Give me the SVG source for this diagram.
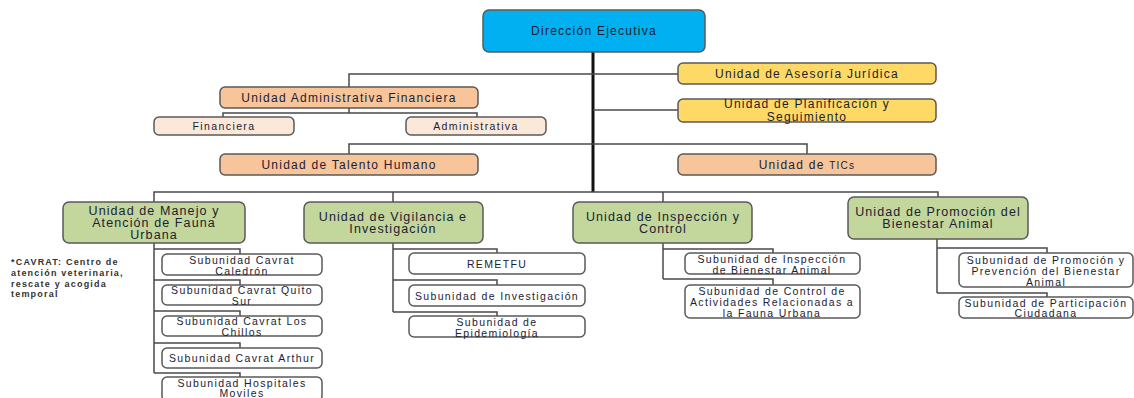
<svg xmlns="http://www.w3.org/2000/svg" width="1134" height="398" viewBox="0 0 1134 398">
<style>
.b{stroke:#595959;stroke-width:1.5}
.dir{fill:#00b0f0}
.pe{fill:#f8c49a}
.lp{fill:#fce8d9}
.ye{fill:#ffd966}
.gr{fill:#c3d69b}
.wh{fill:#ffffff}
text{font-family:"Liberation Sans",Arial,sans-serif;fill:#1a2233;text-anchor:middle;dominant-baseline:central}
.t1{font-size:12px;letter-spacing:1.25px}
.t2{font-size:10.5px;letter-spacing:1.4px}
.t3{font-size:12.5px;letter-spacing:1.1px}
.t4{font-size:10.5px;letter-spacing:1.35px}
.n{font-size:9px;letter-spacing:1.2px;text-anchor:start;font-weight:bold;fill:#333}
.c{fill:none;stroke:#4a4a4a;stroke-width:1.5}
</style>
<rect width="1134" height="398" fill="#ffffff"/>
<g id="connectors">
<path class="c" d="M593 52V192" style="stroke:#111;stroke-width:3"/>
<path class="c" d="M349 87V74H678M593 110H678M349 108V113M223 117V113H477V117M349 154V144H807V154"/>
<path class="c" d="M154 202V192H938V197M393 192V202M663 192V202"/>
<path class="c" d="M154 243V373M154 249H240V254M154 280H240V285M154 311H240V316M154 343H240V348M154 373H240V377"/>
<path class="c" d="M393 243V312M393 249H497V253M393 280H497V285M393 312H497V316"/>
<path class="c" d="M663 243V279M663 249H773V253M663 279H773V285"/>
<path class="c" d="M937 239V293M937 248H1047V253M937 293H1047V297"/>
</g>
<g id="direccion"><rect class="b dir" x="483" y="10" width="222" height="42" rx="6"/><text class="t1" x="594" y="31">Dirección Ejecutiva</text></g>
<g id="asesoria"><rect class="b ye" x="678" y="63" width="258" height="21" rx="5"/><text class="t1" x="807" y="73.5">Unidad de Asesoría Jurídica</text></g>
<g id="planificacion"><rect class="b ye" x="678" y="99" width="258" height="23" rx="5"/><text class="t1" x="807" y="104">Unidad de Planificación y</text><text class="t1" x="807" y="117">Seguimiento</text></g>
<g id="administrativa-financiera"><rect class="b pe" x="220" y="87" width="258" height="21" rx="5"/><text class="t1" x="349" y="97.5">Unidad Administrativa Financiera</text></g>
<g id="financiera"><rect class="b lp" x="154" y="117" width="140" height="18" rx="5"/><text class="t2" x="224" y="126">Financiera</text></g>
<g id="administrativa"><rect class="b lp" x="406" y="117" width="140" height="18" rx="5"/><text class="t2" x="476" y="126">Administrativa</text></g>
<g id="talento"><rect class="b pe" x="220" y="154" width="258" height="21" rx="5"/><text class="t1" x="349" y="164.5">Unidad de Talento Humano</text></g>
<g id="tics"><rect class="b pe" x="678" y="154" width="258" height="21" rx="5"/><text class="t1" x="807" y="164.5">Unidad de <tspan font-size="10">TICs</tspan></text></g>
<g id="manejo"><rect class="b gr" x="63" y="202" width="182" height="41" rx="6"/><text class="t3" x="154" y="211">Unidad de Manejo y</text><text class="t3" x="154" y="223">Atención de Fauna</text><text class="t3" x="154" y="235">Urbana</text></g>
<g id="vigilancia"><rect class="b gr" x="304" y="202" width="179" height="41" rx="6"/><text class="t3" x="393" y="217">Unidad de Vigilancia e</text><text class="t3" x="393" y="229">Investigación</text></g>
<g id="inspeccion"><rect class="b gr" x="573" y="202" width="179" height="41" rx="6"/><text class="t3" x="663" y="217">Unidad de Inspección y</text><text class="t3" x="663" y="229">Control</text></g>
<g id="promocion"><rect class="b gr" x="848" y="197" width="180" height="42" rx="6"/><text class="t3" x="938" y="212">Unidad de Promoción del</text><text class="t3" x="938" y="224">Bienestar Animal</text></g>
<g id="nota"><text class="n" x="11" y="262">*CAVRAT: Centro de</text><text class="n" x="11" y="273">atención veterinaria,</text><text class="n" x="11" y="284">rescate y acogida</text><text class="n" x="11" y="294">temporal</text></g>
<g id="caledron"><rect class="b wh" x="162" y="254" width="160" height="21" rx="5"/><text class="t4" x="242" y="259.5">Subunidad Cavrat</text><text class="t4" x="242" y="270.5">Caledrón</text></g>
<g id="quito-sur"><rect class="b wh" x="162" y="285" width="160" height="20" rx="5"/><text class="t4" x="242" y="290">Subunidad Cavrat Quito</text><text class="t4" x="242" y="301">Sur</text></g>
<g id="los-chillos"><rect class="b wh" x="162" y="316" width="160" height="20" rx="5"/><text class="t4" x="242" y="321">Subunidad Cavrat Los</text><text class="t4" x="242" y="332">Chillos</text></g>
<g id="arthur"><rect class="b wh" x="162" y="348" width="160" height="20" rx="5"/><text class="t4" x="242" y="358">Subunidad Cavrat Arthur</text></g>
<g id="hospitales"><rect class="b wh" x="162" y="377" width="160" height="24" rx="5"/><text class="t4" x="242" y="382.5">Subunidad Hospitales</text><text class="t4" x="242" y="393">Moviles</text></g>
<g id="remetfu"><rect class="b wh" x="409" y="253" width="176" height="21" rx="5"/><text class="t4" x="497" y="263.5">REMETFU</text></g>
<g id="investigacion"><rect class="b wh" x="409" y="285" width="176" height="21" rx="5"/><text class="t4" x="497" y="295.5">Subunidad de Investigación</text></g>
<g id="epidemiologia"><rect class="b wh" x="409" y="316" width="176" height="21" rx="5"/><text class="t4" x="497" y="321.5">Subunidad de</text><text class="t4" x="497" y="333">Epidemiología</text></g>
<g id="inspeccion-bienestar"><rect class="b wh" x="685" y="253" width="175" height="21" rx="5"/><text class="t4" x="772" y="258.5">Subunidad de Inspección</text><text class="t4" x="772" y="269.5">de Bienestar Animal</text></g>
<g id="control-actividades"><rect class="b wh" x="685" y="285" width="175" height="33" rx="5"/><text class="t4" x="772" y="291">Subunidad de Control de</text><text class="t4" x="772" y="302">Actividades Relacionadas a</text><text class="t4" x="772" y="313">la Fauna Urbana</text></g>
<g id="promocion-prevencion"><rect class="b wh" x="959" y="253" width="174" height="34" rx="5"/><text class="t4" x="1046" y="259.5">Subunidad  de Promoción y</text><text class="t4" x="1046" y="270.5">Prevención del Bienestar</text><text class="t4" x="1046" y="281.5">Animal</text></g>
<g id="participacion"><rect class="b wh" x="959" y="297" width="174" height="21" rx="5"/><text class="t4" x="1046" y="302.5">Subunidad de Participación</text><text class="t4" x="1046" y="313">Ciudadana</text></g>
</svg>
